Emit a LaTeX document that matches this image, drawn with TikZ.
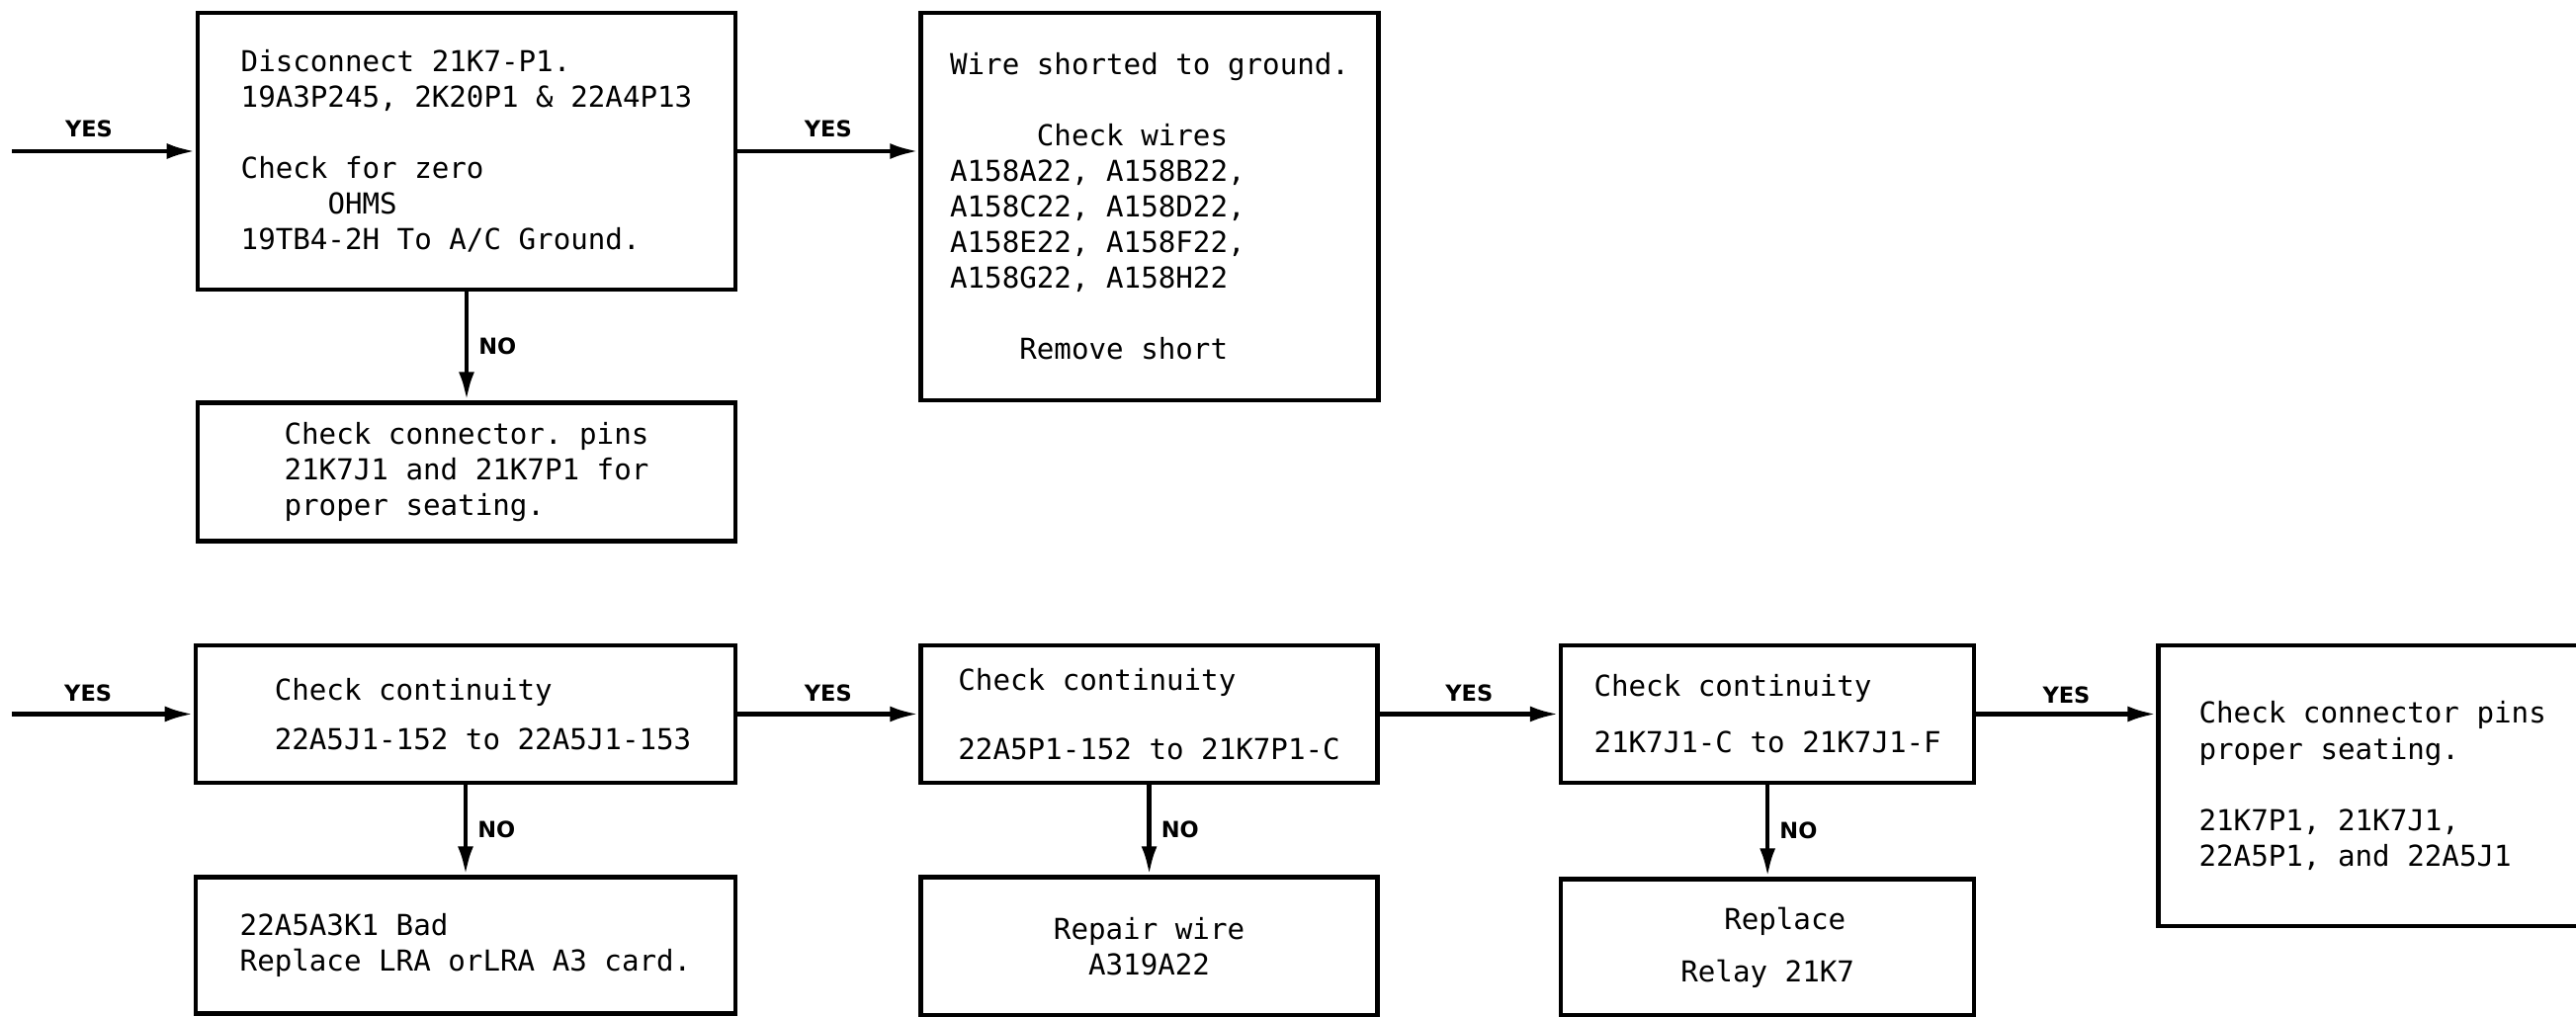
\documentclass[tikz,border=0pt]{standalone}
\usepackage{fontspec}
\setmonofont{DejaVu Sans Mono}
\setsansfont{DejaVu Sans}
\usepackage{tikz}
\usetikzlibrary{positioning, arrows.meta}
\newcommand{\pad}[1]{\hspace*{#1\fontcharwd\font`0}}

\begin{document}
\begin{tikzpicture}[box/.style={draw, line width=1.3pt, align=left, inner sep=0pt, font=\ttfamily\fontsize{8.3}{10.25}\selectfont},arr/.style={line width=1.3pt, -{Latex[length=0.29cm, width=0.16cm]}},lbl/.style={font=\sffamily\bfseries\fontsize{6.4}{7}\selectfont, inner sep=0pt}]
\useasboundingbox (0,0) rectangle (26.06,-10.29);
% top row
\node[box, minimum width=5.44cm, minimum height=2.80cm] (dis) at (4.72,-1.53) {Disconnect 21K7-P1.\\19A3P245, 2K20P1 \& 22A4P13\\[0.36cm]Check for zero\\\pad{5}OHMS\\19TB4-2H To A/C Ground.};
\node[box, minimum width=5.44cm, minimum height=1.40cm, below=1.10cm of dis] (pins) {Check connector. pins\\21K7J1 and 21K7P1 for\\proper seating.};
\node[box, minimum width=4.63cm, minimum height=3.92cm, right=1.83cm of dis.north east, anchor=north west] (wires) {Wire shorted to ground.\\[0.36cm]\pad{5}Check wires\\A158A22, A158B22,\\A158C22, A158D22,\\A158E22, A158F22,\\A158G22, A158H22\\[0.36cm]\pad{4}Remove short};
\coordinate (inA) at (0.12,-1.53);
\draw[arr] (inA) -- (dis.west) node[lbl, pos=0.42, above=0.12cm] {YES};
\draw[arr] (dis.east) -- (dis.east -| wires.west) node[lbl, midway, above=0.12cm] {YES};
\draw[arr] (dis) -- (pins) node[lbl, midway, right=0.1cm] {NO};
% bottom row
\node[box, minimum width=5.46cm, minimum height=1.39cm] (cont1) at (4.71,-7.225) {\pad{2}Check continuity\\[0.14cm]\pad{2}22A5J1-152 to 22A5J1-153};
\node[box, minimum width=5.46cm, minimum height=1.38cm, below=0.91cm of cont1] (lra) {22A5A3K1 Bad\\Replace LRA orLRA A3 card.};
\node[box, minimum width=4.62cm, minimum height=1.39cm, right=1.83cm of cont1] (cont2) {Check continuity\\[0.34cm]22A5P1-152 to 21K7P1-C};
\node[box, minimum width=4.62cm, minimum height=1.40cm, below=0.91cm of cont2, align=center] (rep) {Repair wire\\A319A22};
\node[box, minimum width=4.18cm, minimum height=1.39cm, right=1.81cm of cont2] (cont3) {Check continuity\\[0.21cm]21K7J1-C to 21K7J1-F};
\node[box, minimum width=4.18cm, minimum height=1.38cm, below=0.93cm of cont3, align=center] (relay) {\pad{2}Replace\\[0.17cm]Relay 21K7};
\node[box, minimum width=4.33cm, minimum height=2.84cm, right=1.82cm of cont3.north east, anchor=north west] (seat) {Check connector pins\\proper seating.\\[0.36cm]21K7P1, 21K7J1,\\22A5P1, and 22A5J1};
\coordinate (inD) at (0.12,-7.225);
\draw[arr] (inD) -- (cont1.west) node[lbl, pos=0.42, above=0.1cm] {YES};
\draw[arr] (cont1) -- (cont2) node[lbl, midway, above=0.1cm] {YES};
\draw[arr] (cont2) -- (cont3) node[lbl, midway, above=0.1cm] {YES};
\draw[arr] (cont3.east) -- (cont3.east -| seat.west) node[lbl, midway, above=0.08cm] {YES};
\draw[arr] (cont1) -- (lra) node[lbl, midway, right=0.1cm] {NO};
\draw[arr] (cont2) -- (rep) node[lbl, midway, right=0.1cm] {NO};
\draw[arr] (cont3) -- (relay) node[lbl, midway, right=0.1cm] {NO};
\end{tikzpicture}
\end{document}
